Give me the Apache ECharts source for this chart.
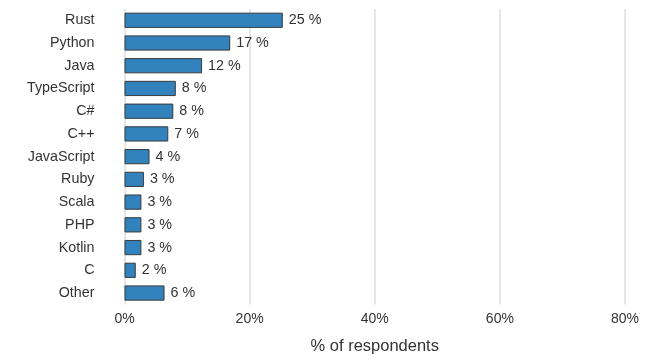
<!DOCTYPE html>
<html><head><meta charset="utf-8">
<script src="https://cdn.jsdelivr.net/npm/echarts@6/dist/echarts.min.js"></script>
<style>html,body{margin:0;padding:0;background:#fff}#c{width:654px;height:358px}</style>
</head><body><div id="c"></div>
<script>
var categories = ["Rust","Python","Java","TypeScript","C#","C++","JavaScript","Ruby","Scala","PHP","Kotlin","C","Other"];
var values = [25.3,16.9,12.4,8.2,7.8,7.0,4.0,3.1,2.7,2.7,2.7,1.8,6.4];
var xTicks = [0,20,40,60,80];
var axisTitle = "% of respondents";

var chart = echarts.init(document.getElementById('c'), null, {renderer:'canvas'});
var font = 'Liberation Sans, Arial, sans-serif';
chart.setOption({
  animation: false,
  grid: {left:124.5, right:29, top:8.9, bottom:53.6, containLabel:false, outerBoundsMode:'none'},
  xAxis: {
    type:'value', min:xTicks[0], max:xTicks[xTicks.length-1], interval:20,
    axisLine:{show:false}, axisTick:{show:false},
    splitLine:{show:true, lineStyle:{color:'#e6e6e6', width:2}},
    axisLabel:{color:'#333', fontSize:14, fontFamily:font, margin:8, formatter:function(v){return v+'%';}},
    name: axisTitle, nameLocation:'middle', nameGap:34,
    nameTextStyle:{color:'#333', fontSize:16.5, fontFamily:font}
  },
  yAxis: {
    type:'category', data:categories, inverse:true,
    axisLine:{show:false}, axisTick:{show:false},
    axisLabel:{color:'#333', fontSize:14.3, fontFamily:font, margin:30}
  },
  series: [{
    type:'bar', data:values, barCategoryGap:'33%',
    itemStyle:{color:'#3182bd', borderColor:'#3a3a3a', borderWidth:1},
    label:{show:true, position:'right', distance:6, color:'#333', fontSize:14.3, fontFamily:font,
      formatter:function(p){return Math.round(p.value)+' %';}}
  }]
});
</script></body></html>
